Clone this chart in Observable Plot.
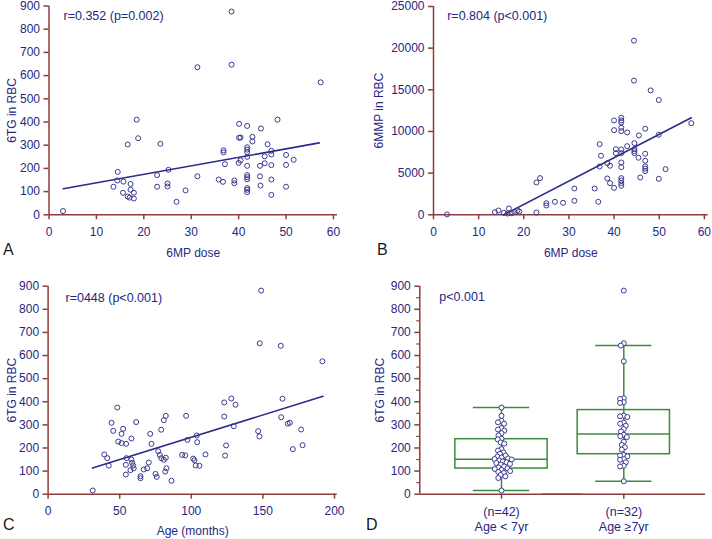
<!DOCTYPE html>
<html><head><meta charset="utf-8">
<script src="https://cdn.jsdelivr.net/npm/d3@7"></script>
<script src="https://cdn.jsdelivr.net/npm/@observablehq/plot@0.6"></script>
<style>
body{margin:0;background:#fff;}
#wrap{position:relative;width:712px;height:539px;overflow:hidden;background:#fff;font-family:'Liberation Sans',Arial,sans-serif;}
.panel{position:absolute;}
.panel svg{display:block;overflow:visible;}
.letter{position:absolute;font-size:16px;line-height:1;color:#1a1a1a;}
</style></head><body>
<div id="wrap">
<div class="panel" id="pA" style="left:0;top:0"></div>
<div class="panel" id="pB" style="left:356px;top:0"></div>
<div class="panel" id="pC" style="left:0;top:270px"></div>
<div class="panel" id="pD" style="left:356px;top:270px"></div>
<div class="letter" style="left:3px;top:241.5px">A</div>
<div class="letter" style="left:377px;top:241.5px">B</div>
<div class="letter" style="left:3px;top:517px">C</div>
<div class="letter" style="left:366px;top:517px">D</div>
</div>
<script>
// ---------- Panel A: 6MP dose vs 6TG in RBC ----------
const doseA = [2.95, 31.3, 18.5, 18.8, 16.6, 23.5, 14.5, 14.4, 13.6, 15.7, 17.2, 15.6, 17.2, 17.9, 16.6, 17.0, 17.9, 22.8, 22.8, 25.0, 25.0, 25.2, 26.9, 28.8, 31.3, 38.5, 38.5, 57.3, 48.2, 40.1, 41.8, 44.7, 40.1, 40.4, 42.9, 42.9, 46.1, 41.8, 41.8, 41.8, 36.8, 36.8, 46.9, 46.9, 45.5, 41.8, 50.0, 51.6, 50.0, 46.9, 45.5, 44.5, 40.0, 40.4, 37.1, 41.8, 35.8, 36.7, 39.1, 39.1, 41.8, 41.8, 41.8, 44.5, 46.9, 44.6, 41.8, 41.8, 41.8, 46.9, 50.0];
const tgA = [16, 636, 410, 330, 303, 306, 185, 148, 121, 143, 133, 95, 108, 95, 79, 74, 70, 171, 121, 135, 122, 194, 56, 105, 166, 876, 647, 571, 410, 392, 383, 372, 332, 333, 336, 316, 304, 291, 281, 270, 278, 269, 276, 260, 252, 250, 258, 237, 215, 214, 222, 211, 224, 234, 218, 211, 152, 142, 148, 136, 171, 162, 153, 166, 152, 126, 115, 108, 98, 86, 121];
const fitAx = [3, 57], fitAy = [112, 310];
const noteA = "r=0.352 (p=0.002)";

// ---------- Panel B: 6MP dose vs 6MMP in RBC ----------
const doseB = [3.0, 13.6, 14.4, 15.6, 16.7, 16.4, 17.3, 17.9, 18.6, 19.0, 22.8, 23.6, 22.8, 25.0, 25.0, 26.9, 28.7, 31.2, 31.2, 35.7, 36.5, 36.8, 37.1, 36.8, 38.5, 39.1, 38.5, 39.1, 40.0, 40.0, 40.0, 41.6, 41.6, 41.6, 41.6, 41.6, 42.9, 40.4, 40.4, 41.6, 41.6, 42.9, 41.6, 41.6, 41.6, 41.6, 41.6, 41.6, 44.4, 44.4, 48.1, 49.9, 46.9, 45.5, 44.5, 44.5, 44.5, 44.5, 45.4, 46.9, 46.9, 46.9, 46.9, 46.9, 45.8, 49.9, 51.4, 49.9, 57.1];
const mmpB = [50, 312, 516, 240, 757, 150, 192, 360, 516, 396, 3880, 4400, 276, 1394, 1117, 1562, 1440, 1680, 3160, 3160, 1560, 8480, 7090, 5800, 6200, 5890, 4360, 3800, 3240, 11330, 10160, 11650, 11330, 11090, 10450, 10040, 9890, 7880, 7400, 7840, 7400, 8240, 6280, 5720, 4400, 4120, 3800, 3480, 20900, 16100, 14930, 13770, 10330, 9530, 8600, 7880, 7640, 7400, 6850, 7330, 6490, 5800, 5530, 5240, 4480, 9610, 5480, 4320, 11000];
const fitBx = [15.6, 57.1], fitBy = [0, 11650];
const noteB = "r=0.804 (p<0.001)";

// ---------- Panel C: Age (months) vs 6TG in RBC ----------
const ageC = [31.2, 48.3, 44.3, 45.5, 52.4, 51.3, 61.5, 58.2, 49.0, 51.3, 54.5, 39.2, 41.3, 42.4, 54.7, 58.2, 58.7, 59.4, 54.3, 57.5, 59.8, 54.3, 64.5, 64.5, 66.8, 69.2, 70.3, 71.3, 72.2, 75.0, 75.9, 76.9, 79.0, 80.8, 82.2, 78.0, 79.0, 80.8, 82.2, 82.7, 81.8, 86.2, 96.4, 93.6, 95.8, 97.3, 101.3, 102.2, 103.1, 104.1, 105.7, 148.8, 147.8, 162.5, 191.6, 163.7, 123.0, 127.9, 130.9, 123.0, 129.7, 162.8, 167.4, 168.8, 176.7, 146.7, 147.6, 103.8, 124.3, 123.6, 109.9, 170.9, 177.7];
const tgC = [16, 375, 309, 274, 283, 261, 312, 241, 228, 221, 218, 172, 156, 124, 156, 150, 136, 124, 127, 104, 112, 85, 78, 69, 107, 112, 137, 261, 218, 88, 75, 186, 279, 320, 339, 170, 156, 149, 158, 112, 98, 58, 339, 170, 168, 235, 154, 147, 124, 225, 123, 881, 653, 642, 575, 413, 397, 414, 387, 336, 294, 333, 305, 309, 280, 273, 250, 254, 211, 167, 172, 195, 212];
const fitCx = [31, 192], fitCy = [113, 424];
const noteC = "r=0448 (p<0.001)";

// ---------- Panel D: 6TG by age group ----------
const groupLabels = ["(n=42)\nAge < 7yr", "(n=32)\nAge \u22657yr"];
const tgYoung = [375, 339, 317, 311, 305, 286, 280, 275, 264, 254, 240, 237, 224, 219, 195, 189, 181, 175, 167, 163, 159, 155, 152, 150, 146, 142, 138, 135, 131, 128, 120, 116, 112, 109, 105, 100, 96, 92, 83, 77, 70, 16];
const tgOld = [881, 653, 643, 575, 415, 412, 398, 395, 340, 337, 334, 310, 305, 296, 282, 271, 257, 251, 247, 227, 213, 203, 193, 170, 167, 164, 152, 149, 138, 123, 120, 56];
const boxQ1 = [111, 173];
const boxMedian = [151, 260];
const boxQ3 = [238, 364];
const whiskerLo = [16, 56];
const whiskerHi = [375, 643];
const noteD = "p<0.001";

// ---------- axes ----------
const xTicksDose = [0, 10, 20, 30, 40, 50, 60];
const yTicksTG = [0, 100, 200, 300, 400, 500, 600, 700, 800, 900];
const yMinorTG = [50, 150, 250, 350, 450, 550, 650, 750, 850];
const yTicksMMP = [0, 5000, 10000, 15000, 20000, 25000];
const xTicksAge = [0, 50, 100, 150, 200];
const cellXDomain = [0, 1];   // local x scale inside each D facet (only used for the y-axis line)

// ---------- styles ----------
const FONT = "'Liberation Sans', Arial, Helvetica, sans-serif";
const AX = "#8e3b3b";
const TXT = "#27277f";
const PT = "#3a3a8e";
const LINE = "#2a2a8e";
const BOX = "#3a8c3a";
const plain = d3.format("d");

const zip = (xs, ys) => xs.map((x, i) => ({x, y: ys[i]}));

function scatter(el, c) {
  const svg = Plot.plot({
    width: 356, height: c.height,
    marginLeft: c.ml, marginRight: c.mr, marginTop: c.mt, marginBottom: c.mb,
    style: {fontFamily: FONT, fontSize: "12px", color: TXT, background: "transparent", overflow: "visible"},
    x: {domain: c.xDomain},
    y: {domain: c.yDomain},
    marks: [
      Plot.ruleY([c.yDomain[0]], {stroke: AX, strokeWidth: 1.5}),
      Plot.ruleX([c.xDomain[0]], {stroke: AX, strokeWidth: 1.5}),
      Plot.axisX({ticks: c.xTicks, tickFormat: plain, tickSize: 5, tickPadding: c.xtp, stroke: AX, strokeWidth: 1.5, fill: TXT,
        label: c.xLabel, labelAnchor: "center", labelOffset: c.xlo, labelArrow: "none", fontSize: 12}),
      Plot.axisY({ticks: c.yTicks, tickFormat: plain, tickSize: 5, tickPadding: 4, stroke: AX, strokeWidth: 1.5, fill: TXT,
        label: c.yLabel, labelAnchor: "center", labelOffset: c.ylo, labelArrow: "none", fontSize: 12}),
      Plot.line(c.fit, {x: "x", y: "y", stroke: LINE, strokeWidth: 1.6}),
      Plot.dot(c.data, {x: "x", y: "y", r: 2.5, stroke: PT, strokeWidth: 1, fill: "none"}),
      Plot.text([c.note], {frameAnchor: "top-left", dx: c.ndx, dy: c.ndy, text: d => d,
        textAnchor: "start", lineAnchor: "middle", fill: TXT, fontSize: 12.5})
    ]
  });
  el.appendChild(svg);
}

scatter(document.getElementById("pA"), {
  height: 262, ml: 48.5, mr: 19, mt: 5.5, mb: 47.7,
  xDomain: [0, 60.85], yDomain: [0, 900], xTicks: xTicksDose, yTicks: yTicksTG,
  xLabel: "6MP dose", yLabel: "6TG in RBC", xtp: 8, xlo: 42, ylo: 42,
  data: zip(doseA, tgA), fit: zip(fitAx, fitAy), note: noteA, ndx: 14.5, ndy: 9.5
});
scatter(document.getElementById("pB"), {
  height: 262, ml: 77, mr: 4.3, mt: 6, mb: 47.7,
  xDomain: [0, 60.85], yDomain: [0, 25000], xTicks: xTicksDose, yTicks: yTicksMMP,
  xLabel: "6MP dose", yLabel: "6MMP in RBC", xtp: 8, xlo: 42, ylo: 59,
  data: zip(doseB, mmpB), fit: zip(fitBx, fitBy), note: noteB, ndx: 13.7, ndy: 9
});
scatter(document.getElementById("pC"), {
  height: 269, ml: 47.6, mr: 19.3, mt: 15.7, mb: 45.3,
  xDomain: [0, 201.9], yDomain: [0, 900], xTicks: xTicksAge, yTicks: yTicksTG,
  xLabel: "Age (months)", yLabel: "6TG in RBC", xtp: 7, xlo: 41, ylo: 41,
  data: zip(ageC, tgC), fit: zip(fitCx, fitCy), note: noteC, ndx: 17.4, ndy: 11.6
});

// ---------- Panel D (faceted box plot with dodged points) ----------
const ptsD = [
  ...tgYoung.map(v => ({group: groupLabels[0], v})),
  ...tgOld.map(v => ({group: groupLabels[1], v}))
];
const boxD = groupLabels.map((g, i) => ({group: g, q1: boxQ1[i], med: boxMedian[i], q3: boxQ3[i], lo: whiskerLo[i], hi: whiskerHi[i]}));

const D_W = 356, D_ML = 63.3, D_MR = 7, FX_PAD = 0.168;
// same band layout as the fx scale, used to pull the shared axes back to the frame edge
const bandD = d3.scaleBand().domain(groupLabels).range([D_ML, D_W - D_MR]).paddingInner(0).paddingOuter(FX_PAD).align(0.5);
const cellOff = bandD(groupLabels[0]) - D_ML;

const svgD = Plot.plot({
  width: D_W, height: 269,
  marginLeft: D_ML, marginRight: D_MR, marginTop: 15.7, marginBottom: 45.3,
  style: {fontFamily: FONT, fontSize: "12px", color: TXT, background: "transparent", overflow: "visible"},
  fx: {domain: groupLabels, paddingInner: 0, paddingOuter: FX_PAD, align: 0.5, round: false, label: null},
  x: {domain: cellXDomain, axis: null},
  y: {domain: [0, 900]},
  marks: [
    Plot.ruleY([0], {stroke: AX, strokeWidth: 1.5, insetLeft: -cellOff, insetRight: -cellOff}),
    Plot.ruleX([{fx: groupLabels[0], x: cellXDomain[0]}], {fx: "fx", x: "x", dx: -cellOff, stroke: AX, strokeWidth: 1.5}),
    Plot.axisY({ticks: yTicksTG, tickFormat: plain, tickSize: 5, tickPadding: 4, stroke: AX, strokeWidth: 1.5, fill: TXT, dx: -cellOff,
      label: "6TG in RBC", labelAnchor: "center", labelOffset: 44.5 + cellOff, labelArrow: "none", fontSize: 12}),
    Plot.axisY({ticks: yMinorTG, tickSize: 3, stroke: AX, strokeWidth: 1.2, tickFormat: () => "", label: null, dx: -cellOff}),
    Plot.axisFx({anchor: "bottom", tickSize: 5, tickPadding: 6, stroke: AX, strokeWidth: 1.5, fill: TXT, label: null, fontSize: 12.5, lineHeight: 1.2}),
    Plot.ruleX(boxD, {fx: "group", x: null, y1: "lo", y2: "hi", stroke: BOX, strokeWidth: 1.5}),
    Plot.barY(boxD, {fx: "group", y1: "q1", y2: "q3", fill: "none", stroke: BOX, strokeWidth: 1.5, insetLeft: 15, insetRight: 15}),
    Plot.tickY(boxD, {fx: "group", y: "med", stroke: BOX, strokeWidth: 1.5, insetLeft: 15, insetRight: 15}),
    Plot.tickY(boxD, {fx: "group", y: "lo", stroke: BOX, strokeWidth: 1.5, insetLeft: 33, insetRight: 33}),
    Plot.tickY(boxD, {fx: "group", y: "hi", stroke: BOX, strokeWidth: 1.5, insetLeft: 33, insetRight: 33}),
    Plot.dot(ptsD, Plot.dodgeX({anchor: "middle", padding: -1.2}, {fx: "group", y: "v", r: 2.5, stroke: PT, strokeWidth: 1, fill: "white"})),
    Plot.text([{fx: groupLabels[0], t: noteD}], {fx: "fx", frameAnchor: "top-left", dx: -1, dy: 11, text: "t",
      textAnchor: "start", lineAnchor: "middle", fill: TXT, fontSize: 12.5})
  ]
});
document.getElementById("pD").appendChild(svgD);
</script>
</body></html>
